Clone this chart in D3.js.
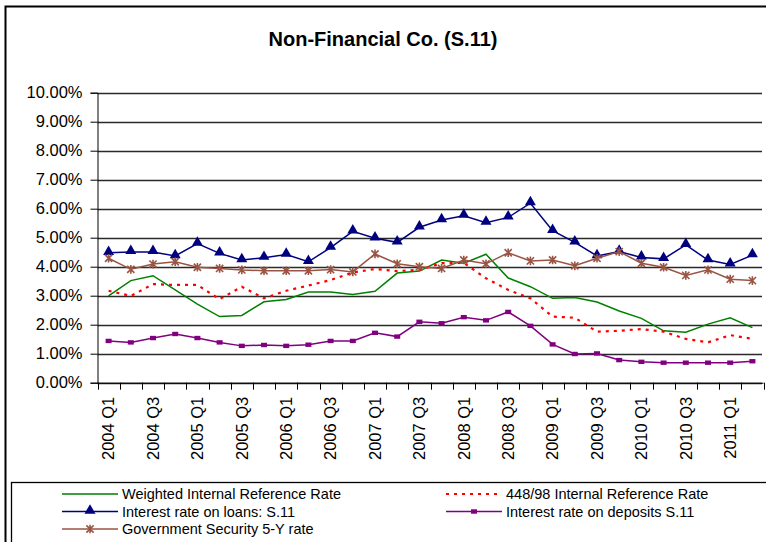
<!DOCTYPE html>
<html>
<head>
<meta charset="utf-8">
<script src="https://cdn.jsdelivr.net/npm/d3@7/dist/d3.min.js"></script>
<style>
  html, body { margin: 0; padding: 0; background: #fff; }
  svg { display: block; font-family: "Liberation Sans", Arial, sans-serif; }
</style>
</head>
<body>
<svg id="chart" width="766" height="542"></svg>
<script>
const categories = [
  "2004 Q1","2004 Q2","2004 Q3","2004 Q4",
  "2005 Q1","2005 Q2","2005 Q3","2005 Q4",
  "2006 Q1","2006 Q2","2006 Q3","2006 Q4",
  "2007 Q1","2007 Q2","2007 Q3","2007 Q4",
  "2008 Q1","2008 Q2","2008 Q3","2008 Q4",
  "2009 Q1","2009 Q2","2009 Q3","2009 Q4",
  "2010 Q1","2010 Q2","2010 Q3","2010 Q4",
  "2011 Q1","2011 Q2"
];
const tickLabels = ["2004 Q1","2004 Q3","2005 Q1","2005 Q3","2006 Q1","2006 Q3","2007 Q1","2007 Q3",
  "2008 Q1","2008 Q3","2009 Q1","2009 Q3","2010 Q1","2010 Q3","2011 Q1"];
const yTicks = [0, 0.01, 0.02, 0.03, 0.04, 0.05, 0.06, 0.07, 0.08, 0.09, 0.10];

// values in percent
const weightedRate = [2.99, 3.52, 3.69, 3.20, 2.71, 2.28, 2.32, 2.79, 2.87, 3.13, 3.13, 3.04, 3.15, 3.78, 3.85, 4.23,
  4.12, 4.43, 3.61, 3.31, 2.91, 2.94, 2.78, 2.47, 2.22, 1.79, 1.74, 2.02, 2.24, 1.90];
const rate44898 = [3.17, 2.99, 3.40, 3.37, 3.37, 2.88, 3.31, 2.91, 3.17, 3.35, 3.54, 3.80, 3.92, 3.85, 3.89, 4.12,
  4.13, 3.60, 3.20, 2.91, 2.28, 2.24, 1.76, 1.79, 1.85, 1.76, 1.51, 1.39, 1.64, 1.51];
const loansRate = [4.48, 4.51, 4.51, 4.37, 4.80, 4.46, 4.23, 4.31, 4.42, 4.17, 4.66, 5.22, 4.98, 4.84, 5.36, 5.61,
  5.76, 5.52, 5.70, 6.19, 5.24, 4.84, 4.37, 4.52, 4.32, 4.27, 4.75, 4.23, 4.08, 4.40];
const depositsRate = [1.44, 1.39, 1.54, 1.68, 1.54, 1.39, 1.27, 1.30, 1.27, 1.31, 1.44, 1.44, 1.72, 1.59, 2.10, 2.05,
  2.26, 2.15, 2.44, 1.96, 1.32, 0.99, 1.01, 0.78, 0.72, 0.69, 0.69, 0.69, 0.69, 0.74];
const govRate = [4.29, 3.91, 4.09, 4.17, 3.98, 3.94, 3.89, 3.86, 3.86, 3.86, 3.90, 3.82, 4.44, 4.10, 4.00, 3.94,
  4.23, 4.10, 4.48, 4.20, 4.23, 4.03, 4.29, 4.52, 4.12, 3.98, 3.70, 3.89, 3.57, 3.52];

const seriesNames = ["Weighted Internal Reference Rate", "448/98 Internal Reference Rate",
  "Interest rate on loans: S.11", "Interest rate on deposits S.11", "Government Security 5-Y rate"];

const series = [
  {name: seriesNames[0], values: weightedRate, color: "#008000", marker: null, dash: null, width: 1.5},
  {name: seriesNames[1], values: rate44898, color: "#FF0000", marker: null, dash: "3,5", width: 2.2},
  {name: seriesNames[2], values: loansRate, color: "#000080", marker: "triangle", dash: null, width: 1.5},
  {name: seriesNames[3], values: depositsRate, color: "#800080", marker: "square", dash: null, width: 1.5},
  {name: seriesNames[4], values: govRate, color: "#9A5444", marker: "star", dash: null, width: 1.5}
];

const svg = d3.select("#chart");
const plot = {left: 97.5, right: 763.5, top: 92.7, bottom: 382.7};

const x = d3.scaleBand().domain(categories).range([plot.left, plot.right]).paddingInner(0).paddingOuter(0);
const y = d3.scaleLinear().domain([0, 0.10]).range([plot.bottom, plot.top]);
const cx = c => x(c) + x.bandwidth() / 2;

// outer border
svg.append("rect").attr("x", 5.5).attr("y", 6.5).attr("width", 770).attr("height", 560)
  .attr("fill", "none").attr("stroke", "#000").attr("stroke-width", 2);

// title
svg.append("text").attr("x", 383).attr("y", 46).attr("text-anchor", "middle")
  .attr("font-size", 20).attr("font-weight", "bold").text("Non-Financial Co. (S.11)");

// gridlines
svg.append("g").selectAll("line").data(yTicks).join("line")
  .attr("x1", plot.left).attr("x2", 762)
  .attr("y1", d => Math.round(y(d)) + 0.5).attr("y2", d => Math.round(y(d)) + 0.5)
  .attr("stroke", "#2a2a2a").attr("stroke-width", 1.3);

// y axis
const yAxis = svg.append("g").attr("transform", `translate(${plot.left},0)`)
  .call(d3.axisLeft(y).tickValues(yTicks).tickFormat(d3.format(".2%")).tickSize(7).tickPadding(8));
yAxis.select(".domain").attr("stroke", "#000").attr("stroke-width", 1);
yAxis.selectAll(".tick line").attr("stroke", "#000");
yAxis.selectAll("text").attr("font-size", 16.5).attr("fill", "#000")
  .attr("font-family", "Liberation Sans, Arial, sans-serif");

// x axis
const xAxis = svg.append("g").attr("transform", `translate(0,${plot.bottom})`)
  .call(d3.axisBottom(x).tickValues(tickLabels).tickSize(0).tickPadding(0));
xAxis.select(".domain").remove();
xAxis.selectAll("text")
  .attr("font-size", 16.5).attr("fill", "#000")
  .attr("font-family", "Liberation Sans, Arial, sans-serif")
  .attr("text-anchor", "end")
  .attr("dy", "0.35em")
  .attr("transform", "translate(0,14) rotate(-90)")
  .attr("y", 0).attr("x", 0);
svg.append("line").attr("x1", plot.left).attr("x2", plot.right)
  .attr("y1", plot.bottom + 0.5).attr("y2", plot.bottom + 0.5).attr("stroke", "#000");
const boundaries = categories.map(c => x(c)).concat([x(categories[categories.length - 1]) + x.bandwidth()]);
svg.append("g").selectAll("line").data(boundaries).join("line")
  .attr("x1", d => Math.round(d) + 0.5).attr("x2", d => Math.round(d) + 0.5)
  .attr("y1", plot.bottom).attr("y2", plot.bottom + 7).attr("stroke", "#000");

// marker drawing
function starPath(s) {
  return `M${-s},${-s}L${s},${s}M${-s},${s}L${s},${-s}M0,${-s * 1.2}L0,${s * 1.2}`;
}
function drawMarker(g, type, color) {
  if (type === "triangle") {
    g.append("path").attr("d", d3.symbol(d3.symbolTriangle, 52)()).attr("fill", color)
      .attr("transform", "translate(0,-1)");
  } else if (type === "square") {
    g.append("rect").attr("x", -3).attr("y", -2.2).attr("width", 6).attr("height", 4.4).attr("fill", color);
  } else if (type === "star") {
    g.append("path").attr("d", starPath(3.6)).attr("stroke", color).attr("stroke-width", 1.6).attr("fill", "none");
  }
}

const line = d3.line().x((d, i) => cx(categories[i])).y(d => y(d / 100));

series.forEach(s => {
  svg.append("path").datum(s.values).attr("d", line)
    .attr("fill", "none").attr("stroke", s.color).attr("stroke-width", s.width)
    .attr("stroke-dasharray", s.dash).attr("stroke-linejoin", "miter");
  if (s.marker) {
    const mg = svg.append("g");
    s.values.forEach((v, i) => {
      const g = mg.append("g").attr("transform", `translate(${cx(categories[i])},${y(v / 100)})`);
      drawMarker(g, s.marker, s.color);
    });
  }
});

// legend
svg.append("rect").attr("x", 11.5).attr("y", 482.5).attr("width", 770).attr("height", 80)
  .attr("fill", "#fff").attr("stroke", "#000").attr("stroke-width", 1.3);
const legendPos = [
  {x: 62, y: 494}, {x: 446, y: 494},
  {x: 62, y: 511.5}, {x: 446, y: 511.5},
  {x: 62, y: 529}
];
series.forEach((s, i) => {
  const p = legendPos[i];
  const g = svg.append("g").attr("transform", `translate(${p.x},${p.y})`);
  g.append("line").attr("x1", 0).attr("x2", 56).attr("y1", 0).attr("y2", 0)
    .attr("stroke", s.color).attr("stroke-width", s.dash ? 2.2 : 1.5).attr("stroke-dasharray", s.dash);
  if (s.marker) {
    const mg = g.append("g").attr("transform", "translate(28,0)");
    drawMarker(mg, s.marker, s.color);
  }
  g.append("text").attr("x", 60).attr("y", 0).attr("dy", "0.35em")
    .attr("font-size", 14.5).text(s.name);
});
</script>
</body>
</html>
